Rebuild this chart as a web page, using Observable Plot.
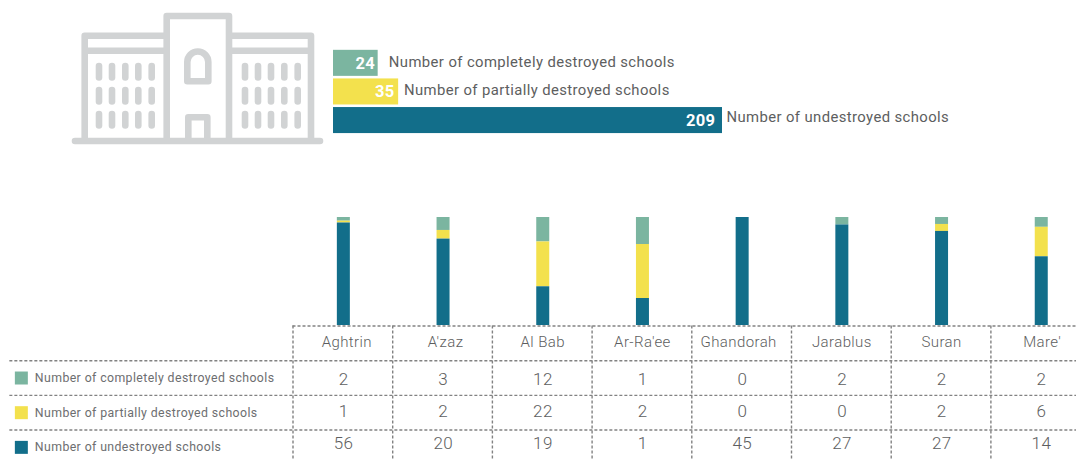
<!DOCTYPE html>
<html>
<head>
<meta charset="utf-8">
<script src="https://cdn.jsdelivr.net/npm/d3@7"></script>
<script src="https://cdn.jsdelivr.net/npm/@observablehq/plot@0.6"></script>
<style>
  html, body { margin: 0; padding: 0; background: #fff; overflow: hidden; }
  #page { position: relative; width: 1076px; height: 459px; overflow: hidden; }
  #page svg { position: absolute; left: 0; top: 0; }
  #page text { letter-spacing: 0.4px; }
</style>
</head>
<body>
<div id="page"></div>
<script>
// School damage survey by sub-district
const areas = ["Aghtrin", "A'zaz", "Al Bab", "Ar-Ra'ee", "Ghandorah", "Jarablus", "Suran", "Mare'"];
const statuses = [
  "Number of completely destroyed schools",
  "Number of partially destroyed schools",
  "Number of undestroyed schools"
];
const completelyDestroyed = [2, 3, 12, 1, 0, 2, 2, 2];
const partiallyDestroyed = [1, 2, 22, 2, 0, 0, 2, 6];
const undestroyed = [56, 20, 19, 1, 45, 27, 27, 14];
const totals = [24, 35, 209];
const colors = ["#7bb5a0", "#f3e14d", "#126e8a"];

const seriesValues = [completelyDestroyed, partiallyDestroyed, undestroyed];
const W = 1076, H = 459;
const FONT = "Roboto, sans-serif";
const INK = "#5d5e60";
const page = document.getElementById("page");

const base = {
  width: W, height: H,
  marginTop: 0, marginRight: 0, marginBottom: 0, marginLeft: 0,
  style: {background: "transparent", fontFamily: FONT, maxWidth: "none", overflow: "hidden"}
};

// Outline drawing of the school building
const NS = "http://www.w3.org/2000/svg";
const icon = d3.select(page).append(() => document.createElementNS(NS, "svg"))
  .attr("width", W).attr("height", H)
  .attr("fill", "none").attr("stroke", "#d1d3d4").attr("stroke-width", 6.6)
  .attr("stroke-linejoin", "round").attr("stroke-linecap", "round");
icon.append("path").attr("d", [
  "M75 141H320",
  "M84.7 141V35.7H166.7M84.7 50.8H166.7",
  "M311 141V35.7H229M311 50.8H229",
  "M166.7 141V16H229V141",
  "M187.3 81.3V62A10.5 10.5 0 0 1 208.3 62V81.3Z",
  "M188.3 141V117.3H207.3V141"
].join(""));
for (const x of [99, 112, 125.3, 138.3, 151.7, 245, 258, 271, 284.3, 297.7]) {
  for (const y of [66, 90, 114]) {
    icon.append("line").attr("x1", x).attr("x2", x).attr("y1", y).attr("y2", y + 11.5);
  }
}

// Overall totals as horizontal bars
const totalRows = statuses.map((status, i) => ({status, total: totals[i], color: colors[i]}));
const valueInset = [-3, -4, -7];
const labelGap = [10.7, 5.3, 4];
const labelLift = [-1.5, -2, -3.5];
page.append(Plot.plot({
  ...base,
  x: {domain: [0, 209], range: [333, 722], axis: null},
  y: {type: "band", domain: statuses, range: [47.25, 135.65], padding: 0.09, round: false, axis: null},
  marks: [
    Plot.barX(totalRows, {x: "total", y: "status", fill: "color"}),
    ...totalRows.flatMap((d, i) => [
      Plot.text([d], {x: "total", y: "status", text: "total", textAnchor: "end", dx: valueInset[i],
        fill: "#fff", fontWeight: 700, fontSize: 16.5}),
      Plot.text([d], {x: "total", y: "status", text: "status", textAnchor: "start", dx: labelGap[i],
        dy: labelLift[i], fill: INK, fontSize: 14.85})
    ])
  ]
}));

// Share of each status within every area
const stacked = statuses.flatMap((status, s) =>
  areas.map((area, a) => ({area, status, count: seriesValues[s][a]})));
page.append(Plot.plot({
  ...base,
  x: {type: "band", domain: areas, range: [293.5, 1091.1], padding: 0, round: false, axis: null},
  y: {domain: [0, 1], range: [325, 217], axis: null},
  color: {domain: statuses, range: colors},
  marks: [
    Plot.barY(stacked, Plot.stackY({
      x: "area", y: "count", fill: "status", offset: "normalize",
      order: statuses.slice().reverse(), insetLeft: 43.35, insetRight: 43.35
    }))
  ]
}));

// Data table beneath the bars: columns and rows are addressed by index
const rowNudge = [2, -1, -3.5];
const headerNudge = [4, 3, 0.5, 0.5, -3, 0.5, 0.5, 1.5];
const dashes = {stroke: "#828282", strokeWidth: 1.4, strokeDasharray: "3,2"};
const labelColumn = -2.84;
page.append(Plot.plot({
  ...base,
  x: {domain: [0, 8], range: [292.5, 1090.1], axis: null},
  y: {domain: [0, 4], range: [325.5, 464.2], axis: null},
  color: {domain: statuses, range: colors},
  marks: [
    Plot.ruleX(d3.range(0, 9), {y1: 0, y2: 4, ...dashes}),
    Plot.ruleY([0], {x1: 0, x2: 8, ...dashes}),
    Plot.ruleY([1, 2, 3], {x1: labelColumn, x2: 8, ...dashes}),
    ...areas.map((area, c) =>
      Plot.text([area], {x: () => c + 0.5, y: () => 0.5, text: d => d, dx: headerNudge[c], dy: -1,
        fill: INK, fontSize: 15, fontWeight: 300})),
    ...seriesValues.map((values, r) =>
      Plot.text(values, {x: (d, i) => i + 0.5, y: () => r + 1.5, text: d => `${d}`, dx: 0.7, dy: rowNudge[r],
        fill: INK, fontSize: 17, fontWeight: 300})),
    Plot.dot(statuses, {x: () => labelColumn, y: (d, i) => i + 1.5, fill: d => d, symbol: "square",
      r: 7.33, dx: 11.5}),
    Plot.text(statuses, {x: () => labelColumn, y: (d, i) => i + 1.5, text: d => d, dx: 25,
      textAnchor: "start", fill: "#6d6e70", fontSize: 12.3})
  ]
}));
</script>
</body>
</html>
